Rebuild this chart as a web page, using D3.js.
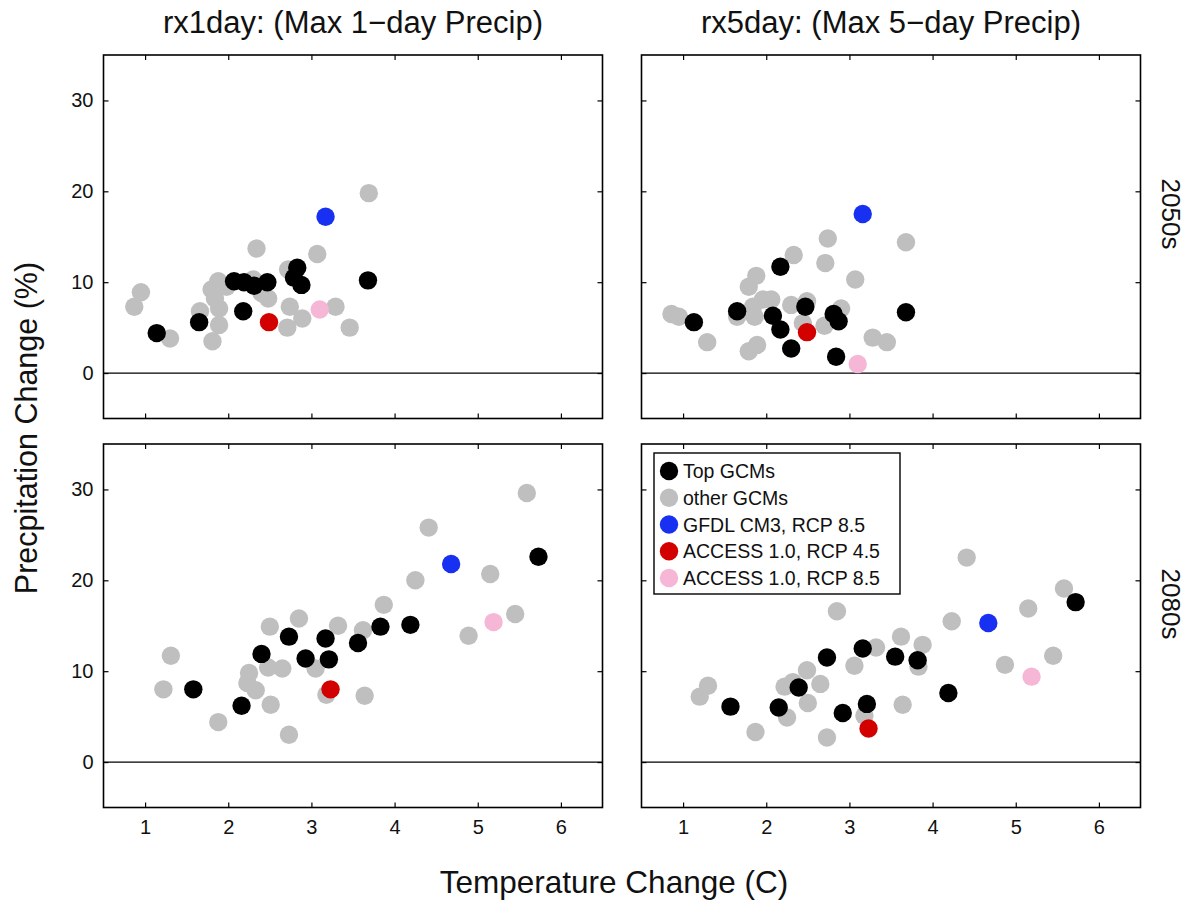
<!DOCTYPE html>
<html>
<head>
<meta charset="utf-8">
<script src="https://cdn.jsdelivr.net/npm/d3@7/dist/d3.min.js"></script>
<style>
  html, body { margin: 0; padding: 0; background: #fff; }
  svg text { font-family: "Liberation Sans", Arial, Helvetica, sans-serif; fill: #111; }
</style>
</head>
<body>
<svg id="chart" width="1189" height="903"></svg>
<script>
// ---- Data: temperature change (C) and precipitation change (%) per GCM ----

// rx1day, 2050s
const r1_50_topT   = [1.14, 1.65, 2.18, 2.07, 2.19, 2.31, 2.47, 2.83, 2.79, 2.88, 3.68];
const r1_50_topP   = [4.4, 5.6, 6.8, 10.1, 10.0, 9.6, 10.0, 11.6, 10.5, 9.7, 10.2];
const r1_50_othT   = [0.95, 0.87, 1.30, 1.66, 1.81, 1.89, 1.89, 1.84, 1.80, 1.88, 1.98, 2.34, 2.30, 2.48, 2.40, 2.74, 2.71, 2.89, 2.72, 3.07, 3.29, 3.46, 3.69];
const r1_50_othP   = [8.9, 7.3, 3.8, 6.8, 3.5, 5.3, 7.1, 8.2, 9.2, 10.1, 9.5, 13.7, 10.3, 8.2, 8.8, 7.3, 5.0, 6.0, 11.4, 13.1, 7.3, 5.0, 19.8];

// rx5day, 2050s
const r5_50_topT   = [1.13, 1.65, 2.08, 2.17, 2.17, 2.30, 2.47, 2.81, 2.87, 2.84, 3.68];
const r5_50_topP   = [5.6, 6.8, 6.3, 4.8, 11.7, 2.7, 7.3, 6.5, 5.7, 1.8, 6.7];
const r5_50_othT   = [0.86, 0.95, 1.29, 1.65, 1.79, 1.89, 1.79, 1.88, 1.84, 1.86, 1.96, 2.06, 2.33, 2.30, 2.49, 2.44, 2.71, 2.74, 2.70, 2.90, 3.07, 3.28, 3.45, 3.68];
const r5_50_othP   = [6.5, 6.2, 3.4, 6.2, 2.4, 3.1, 9.5, 10.7, 7.3, 6.2, 8.1, 8.1, 13.0, 7.5, 7.9, 5.5, 12.1, 14.8, 5.2, 7.1, 10.3, 3.9, 3.4, 14.4];

// rx1day, 2080s
const r1_80_topT   = [1.58, 2.16, 2.40, 2.73, 2.93, 3.17, 3.21, 3.56, 3.83, 4.19, 5.73];
const r1_80_topP   = [8.0, 6.2, 11.9, 13.8, 11.4, 13.6, 11.3, 13.1, 14.9, 15.1, 22.6];
const r1_80_othT   = [1.22, 1.31, 1.88, 2.25, 2.23, 2.33, 2.50, 2.48, 2.51, 2.65, 2.73, 2.85, 3.05, 3.32, 3.18, 3.62, 3.64, 3.87, 4.25, 4.41, 4.89, 5.15, 5.45, 5.59];
const r1_80_othP   = [8.0, 11.7, 4.4, 9.8, 8.7, 7.9, 14.9, 10.4, 6.3, 10.3, 3.0, 15.8, 10.3, 15.0, 7.4, 14.5, 7.3, 17.3, 20.0, 25.8, 13.9, 20.7, 16.3, 29.6];

// rx5day, 2080s
const r5_80_topT   = [1.57, 2.15, 2.39, 2.73, 2.92, 3.16, 3.21, 3.55, 3.82, 4.19, 5.72];
const r5_80_topP   = [6.1, 6.0, 8.2, 11.5, 5.4, 12.5, 6.4, 11.6, 11.2, 7.6, 17.6];
const r5_80_othT   = [1.20, 1.30, 1.87, 2.22, 2.25, 2.32, 2.49, 2.50, 2.65, 2.73, 2.85, 3.06, 3.18, 3.32, 3.62, 3.64, 3.83, 3.88, 4.23, 4.41, 4.87, 5.15, 5.45, 5.58];
const r5_80_othP   = [7.2, 8.4, 3.3, 8.3, 4.9, 8.8, 10.1, 6.5, 8.6, 2.7, 16.6, 10.6, 5.1, 12.6, 13.8, 6.3, 10.5, 12.9, 15.5, 22.5, 10.7, 16.9, 11.7, 19.1];

// Highlighted runs: [rx1day 2050s, rx5day 2050s, rx1day 2080s, rx5day 2080s]
const gfdl85T   = [3.17, 3.16, 4.68, 4.67];
const gfdl85P   = [17.2, 17.5, 21.8, 15.3];
const access45T = [2.49, 2.49, 3.23, 3.23];
const access45P = [5.6, 4.5, 8.0, 3.7];
const access85T = [3.10, 3.10, 5.19, 5.19];
const access85P = [7.0, 1.0, 15.4, 9.4];

const indexNames = ["rx1day: (Max 1\u2212day Precip)", "rx5day: (Max 5\u2212day Precip)"];
const periodNames = ["2050s", "2080s"];
const xTicks = [1, 2, 3, 4, 5, 6];
const yTicks = [0, 10, 20, 30];
const legendLabels = ["Top GCMs", "other GCMs", "GFDL CM3, RCP 8.5", "ACCESS 1.0, RCP 4.5", "ACCESS 1.0, RCP 8.5"];

// ---- Layout ----
const svg = d3.select("#chart");
const colX = [103.5, 641.5];
const rowY = [55, 444];
const pw = 499, ph = 363.5;
const rDot = 9.2;

const colors = {
  top: "#000000",
  other: "#bfbfbf",
  gfdl: "#1830f2",
  a45: "#d30000",
  a85: "#f6b6d6"
};

const panels = [
  { col: 0, row: 0, topT: r1_50_topT, topP: r1_50_topP, othT: r1_50_othT, othP: r1_50_othP, k: 0 },
  { col: 1, row: 0, topT: r5_50_topT, topP: r5_50_topP, othT: r5_50_othT, othP: r5_50_othP, k: 1 },
  { col: 0, row: 1, topT: r1_80_topT, topP: r1_80_topP, othT: r1_80_othT, othP: r1_80_othP, k: 2 },
  { col: 1, row: 1, topT: r5_80_topT, topP: r5_80_topP, othT: r5_80_othT, othP: r5_80_othP, k: 3 }
];

const x = d3.scaleLinear().domain([0.5, 6.5]).range([0, pw]);
const y = d3.scaleLinear().domain([-5, 35]).range([ph, 0]);

panels.forEach(p => {
  const g = svg.append("g").attr("transform", `translate(${colX[p.col]},${rowY[p.row]})`);

  // zero reference line
  g.append("line")
    .attr("x1", 0).attr("x2", pw)
    .attr("y1", y(0)).attr("y2", y(0))
    .attr("stroke", "#000").attr("stroke-width", 1.3);

  const marks = g.append("g");

  const pts = (T, P) => T.map((t, i) => ({ t, p: P[i] }));

  const drawSet = (data, fill) => {
    marks.selectAll(null).data(data).enter().append("circle")
      .attr("cx", d => x(d.t)).attr("cy", d => y(d.p))
      .attr("r", rDot).attr("fill", fill);
  };

  drawSet(pts(p.othT, p.othP), colors.other);
  drawSet(pts(p.topT, p.topP), colors.top);
  drawSet([{ t: access45T[p.k], p: access45P[p.k] }], colors.a45);
  drawSet([{ t: gfdl85T[p.k], p: gfdl85P[p.k] }], colors.gfdl);
  drawSet([{ t: access85T[p.k], p: access85P[p.k] }], colors.a85);

  // inward ticks on all four sides
  const tl = 5;
  const bottom = d3.axisBottom(x).tickValues(xTicks).tickSize(-tl).tickPadding(12)
    .tickFormat(p.row === 1 ? d3.format("d") : () => "");
  const top = d3.axisTop(x).tickValues(xTicks).tickSize(-tl).tickFormat(() => "");
  const left = d3.axisLeft(y).tickValues(yTicks).tickSize(-tl).tickPadding(10)
    .tickFormat(p.col === 0 ? d3.format("d") : () => "");
  const right = d3.axisRight(y).tickValues(yTicks).tickSize(-tl).tickFormat(() => "");

  const styleAxis = sel => {
    sel.select(".domain").remove();
    sel.selectAll(".tick line").attr("stroke", "#000").attr("stroke-width", 1.2);
    sel.selectAll(".tick text").attr("font-size", 20).attr("font-family", "Liberation Sans, Arial, sans-serif").attr("fill", "#111");
  };
  g.append("g").attr("transform", `translate(0,${ph})`).call(bottom).call(styleAxis);
  g.append("g").call(top).call(styleAxis);
  g.append("g").call(left).call(styleAxis);
  g.append("g").attr("transform", `translate(${pw},0)`).call(right).call(styleAxis);

  // frame
  g.append("rect").attr("width", pw).attr("height", ph)
    .attr("fill", "none").attr("stroke", "#000").attr("stroke-width", 1.6);
});

// column titles
indexNames.forEach((t, i) => {
  svg.append("text")
    .attr("x", colX[i] + pw / 2).attr("y", 33)
    .attr("text-anchor", "middle").attr("font-size", 31)
    .text(t);
});

// row labels (rotated, reading downward)
const rowLabelY = [214, 604];
periodNames.forEach((t, i) => {
  svg.append("text")
    .attr("transform", `translate(1162,${rowLabelY[i]}) rotate(90)`)
    .attr("text-anchor", "middle").attr("font-size", 26)
    .text(t);
});

// axis titles
svg.append("text")
  .attr("transform", "translate(37,428) rotate(-90)")
  .attr("text-anchor", "middle").attr("font-size", 30.5)
  .text("Precpitation Change (%)");

svg.append("text")
  .attr("x", 614).attr("y", 893)
  .attr("text-anchor", "middle").attr("font-size", 31.5)
  .text("Temperature Change (C)");

// legend in the lower-right panel
const legColors = [colors.top, colors.other, colors.gfdl, colors.a45, colors.a85];
const lg = svg.append("g").attr("transform", "translate(654,453)");
lg.append("rect").attr("width", 246).attr("height", 141)
  .attr("fill", "#fff").attr("stroke", "#000").attr("stroke-width", 1.4);
const legY = d3.scalePoint().domain(legendLabels).range([18, 125]);
legendLabels.forEach((lab, i) => {
  lg.append("circle").attr("cx", 15).attr("cy", legY(lab)).attr("r", rDot).attr("fill", legColors[i]);
  lg.append("text").attr("x", 29).attr("y", legY(lab) + 7)
    .attr("font-size", 19.5).text(lab);
});
</script>
</body>
</html>
